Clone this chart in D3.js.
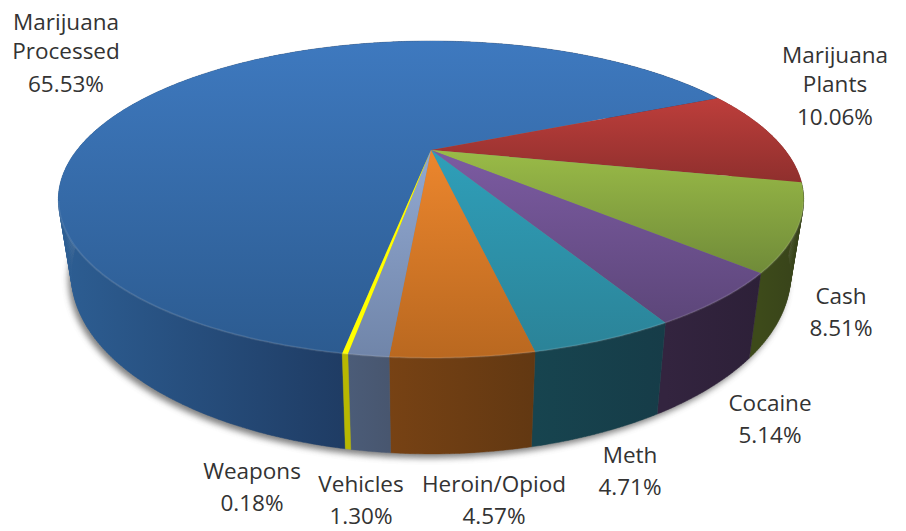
<!DOCTYPE html>
<html><head><meta charset="utf-8">
<script src="https://cdn.jsdelivr.net/npm/d3@7"></script>
<style>html,body{margin:0;padding:0;background:#fff}svg{display:block}text{font-family:"Open Sans",sans-serif;font-size:22.5px;fill:#333;text-anchor:middle}</style>
</head><body><svg id="c" width="906" height="531"></svg>
<script>
const categories=["Marijuana Processed","Marijuana Plants","Cash","Cocaine","Meth","Heroin/Opiod","Vehicles","Weapons"];
const shares=[65.53,10.06,8.51,5.14,4.71,4.57,1.30,0.18];
const shareLabels=["65.53%","10.06%","8.51%","5.14%","4.71%","4.57%","1.30%","0.18%"];
const labelLines=[["Marijuana","Processed"],["Marijuana","Plants"],["Cash"],["Cocaine"],["Meth"],["Heroin/Opiod"],["Vehicles"],["Weapons"]];
const labelX=[66,835,841,770,630,494,361,252];
const labelY=[22,55,296,403,455,484,484,471];
const faceTop=["#3e79bf","#bd3e3b","#9abb47","#7c5ba2","#2f9fb9","#ec862d","#92a9d2","#ffff00"];
const faceBottom=["#2c5b90","#8f2f2d","#708b39","#5c4679","#2b8398","#b96820","#7085a9","#ffff00"];
const wallLeft=["#2d5e93","#8f2f2d","#3d4a1a","#33243f","#17444f","#774214","#4b5c78","#b8b800"];
const wallRight=["#1f3c64","#8f2f2d","#37421a","#2d2038","#163c48","#623812","#48566f","#b8b800"];

const svg=d3.select("#c"),defs=svg.append("defs");
const cx=431,cy=150,B=354,A=143,K=0.3123,frontY=200;
const project=t=>{const u=Math.sin(t),v=-Math.cos(t),w=1-K*v;return [cx+B*u/w,cy+A*v/w];};
const lowerX=d3.scaleLinear().domain([cx-100,cx+100]).range([cx-96.5,cx+96.5]);
const lowerY=d3.scaleLinear().domain([358,258]).range([454,341]);
const lower=p=>[lowerX(p[0]),lowerY(p[1])];
const line=d3.line();
const pie=d3.pie().sort(null).startAngle(190*Math.PI/180).endAngle((190+360)*Math.PI/180)(shares);
const samples=d=>{const n=Math.max(2,Math.ceil((d.endAngle-d.startAngle)/0.01));return d3.range(n+1).map(i=>d.startAngle+(d.endAngle-d.startAngle)*i/n);};
const frontOf=d=>samples(d).map(project).filter(p=>p[1]>frontY);

const sh=defs.append("filter").attr("id","sh").attr("x","-5%").attr("y","-5%").attr("width","110%").attr("height","115%");
sh.append("feGaussianBlur").attr("stdDeviation",3);
pie.forEach((d,i)=>{
 const f=defs.append("linearGradient").attr("id","f"+i).attr("x1",0).attr("x2",0).attr("y1",0).attr("y2",1);
 f.append("stop").attr("offset",0).attr("stop-color",faceTop[i]);
 f.append("stop").attr("offset",1).attr("stop-color",faceBottom[i]);
 const ext=d3.extent(frontOf(d),p=>p[0]);
 const w=defs.append("linearGradient").attr("id","w"+i).attr("gradientUnits","userSpaceOnUse")
  .attr("x1",ext[0]===undefined?0:ext[0]).attr("x2",ext[1]===undefined?906:ext[1]).attr("y1",0).attr("y2",0);
 w.append("stop").attr("offset",0).attr("stop-color",wallLeft[i]);
 w.append("stop").attr("offset",1).attr("stop-color",wallRight[i]);
});
const all=d3.range(0,721).map(i=>i*Math.PI/360);
svg.append("path").attr("d",line(all.map(project).map(lower))+"Z").attr("transform","translate(-3,4)").attr("fill","#555").attr("filter","url(#sh)").attr("opacity",.75);
pie.forEach((d,i)=>{
 const a=samples(d);
 const strips=d3.pairs(a).map(q=>{const p=q.map(project),l=p.map(lower);return line([p[0],p[1],l[1],l[0]])+"Z";}).join("");
 svg.append("path").attr("d",strips).attr("fill","url(#w"+i+")").attr("stroke","url(#w"+i+")").attr("stroke-width",.4);
});
pie.forEach((d,i)=>{
 const rim=samples(d).map(project);
 svg.append("path").attr("d",line([[cx,cy]].concat(rim))+"Z").attr("fill","url(#f"+i+")");
 const front=frontOf(d);
 if(front.length>1) svg.append("path").attr("d",line(front)).attr("fill","none").attr("stroke","#fff").attr("stroke-opacity",.1).attr("stroke-width",2);
});
categories.forEach((c,i)=>{
 const lines=labelLines[i].concat(shareLabels[i]);
 lines.forEach((t,j)=>{
  svg.append("text").attr("x",labelX[i]).attr("y",labelY[i]+(lines.length===3?[0,29,62][j]:[0,32][j])).attr("dy","0.35em").text(t);
 });
});
</script></body></html>
